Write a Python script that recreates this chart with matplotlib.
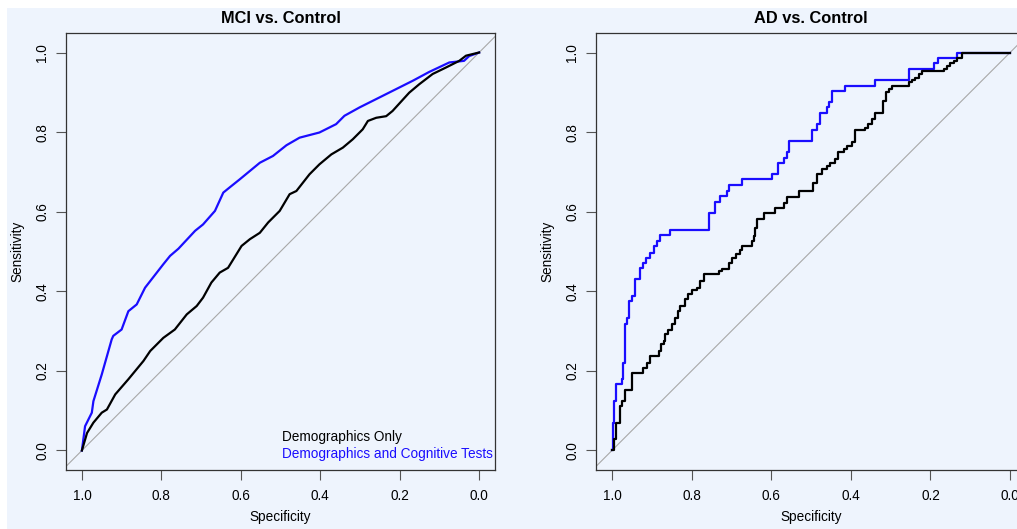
import numpy as np
import matplotlib
matplotlib.use('Agg')
import matplotlib.pyplot as plt
from matplotlib.patches import Rectangle

plt.rcParams['font.family'] = ['Liberation Sans', 'DejaVu Sans']

# MCI vs. Control (specificity, sensitivity)
mci_demo_spec = [1.0, 0.987, 0.971, 0.950, 0.937, 0.916, 0.883, 0.845, 0.828, 0.795, 0.766,
                 0.736, 0.711, 0.695, 0.674, 0.653, 0.632, 0.598, 0.577, 0.552, 0.531, 0.502,
                 0.477, 0.460, 0.427, 0.402, 0.372, 0.343, 0.318, 0.293, 0.280, 0.259, 0.234,
                 0.218, 0.176, 0.151, 0.117, 0.084, 0.050, 0.033, 0.0]
mci_demo_sens = [0.0, 0.044, 0.070, 0.095, 0.103, 0.141, 0.179, 0.225, 0.250, 0.283, 0.304,
                 0.342, 0.363, 0.384, 0.422, 0.447, 0.459, 0.514, 0.531, 0.547, 0.573, 0.602,
                 0.644, 0.652, 0.694, 0.719, 0.744, 0.761, 0.782, 0.807, 0.828, 0.836, 0.840,
                 0.853, 0.899, 0.920, 0.946, 0.962, 0.979, 0.992, 1.0]
mci_cog_spec = [1.0, 0.992, 0.975, 0.971, 0.950, 0.925, 0.921, 0.900, 0.883, 0.862, 0.841,
                0.795, 0.778, 0.757, 0.715, 0.695, 0.665, 0.644, 0.628, 0.603, 0.552, 0.519,
                0.485, 0.452, 0.402, 0.360, 0.339, 0.301, 0.259, 0.209, 0.167, 0.126, 0.075,
                0.038, 0.025, 0.0]
mci_cog_sens = [0.0, 0.061, 0.095, 0.124, 0.191, 0.279, 0.288, 0.304, 0.350, 0.367, 0.409,
                0.468, 0.489, 0.507, 0.552, 0.568, 0.602, 0.648, 0.661, 0.681, 0.723, 0.740,
                0.767, 0.786, 0.799, 0.820, 0.841, 0.862, 0.883, 0.908, 0.929, 0.951, 0.975,
                0.979, 0.991, 1.0]

# AD vs. Control (step curves)
ad_demo_spec = [1.0, 0.996, 0.989, 0.979, 0.975, 0.967, 0.950, 0.921, 0.912, 0.904, 0.883,
                0.877, 0.870, 0.866, 0.858, 0.849, 0.841, 0.833, 0.828, 0.816, 0.808, 0.799,
                0.787, 0.778, 0.770, 0.732, 0.724, 0.707, 0.699, 0.689, 0.678, 0.674, 0.649,
                0.644, 0.640, 0.636, 0.619, 0.590, 0.569, 0.561, 0.531, 0.494, 0.485, 0.473,
                0.460, 0.452, 0.439, 0.431, 0.418, 0.410, 0.397, 0.389, 0.364, 0.356, 0.347,
                0.339, 0.318, 0.312, 0.305, 0.297, 0.255, 0.247, 0.238, 0.230, 0.222, 0.167,
                0.159, 0.151, 0.142, 0.134, 0.121, 0.0]
ad_demo_sens = [0.0, 0.028, 0.070, 0.112, 0.124, 0.153, 0.195, 0.208, 0.220, 0.237, 0.250,
                0.267, 0.275, 0.292, 0.304, 0.319, 0.334, 0.350, 0.363, 0.380, 0.392, 0.403,
                0.409, 0.426, 0.443, 0.451, 0.457, 0.472, 0.484, 0.493, 0.505, 0.514, 0.526,
                0.539, 0.560, 0.581, 0.596, 0.610, 0.623, 0.638, 0.652, 0.673, 0.694, 0.707,
                0.715, 0.722, 0.733, 0.749, 0.757, 0.765, 0.774, 0.806, 0.811, 0.820, 0.832,
                0.847, 0.878, 0.901, 0.909, 0.916, 0.925, 0.931, 0.937, 0.946, 0.954, 0.958,
                0.966, 0.973, 0.979, 0.987, 1.0, 1.0]
ad_cog_spec = [1.0, 0.9975, 0.994, 0.989, 0.975, 0.971, 0.967, 0.962, 0.956, 0.950, 0.943,
               0.929, 0.923, 0.914, 0.905, 0.895, 0.887, 0.879, 0.854, 0.757, 0.741, 0.728,
               0.711, 0.707, 0.674, 0.598, 0.582, 0.569, 0.561, 0.555, 0.498, 0.485, 0.477,
               0.460, 0.454, 0.448, 0.414, 0.339, 0.255, 0.192, 0.180, 0.134, 0.0]
ad_cog_sens = [0.0, 0.070, 0.124, 0.166, 0.180, 0.220, 0.317, 0.334, 0.376, 0.388, 0.430,
               0.459, 0.472, 0.484, 0.497, 0.514, 0.526, 0.541, 0.554, 0.596, 0.625, 0.640,
               0.652, 0.667, 0.681, 0.694, 0.722, 0.736, 0.749, 0.778, 0.806, 0.820, 0.847,
               0.862, 0.876, 0.904, 0.916, 0.931, 0.958, 0.973, 0.987, 1.0, 1.0]

titles = ['MCI vs. Control', 'AD vs. Control']
legend_labels = ['Demographics Only', 'Demographics and Cognitive Tests']
ticks = [1.0, 0.8, 0.6, 0.4, 0.2, 0.0]

W, H = 1017, 529
fig = plt.figure(figsize=(W / 100, H / 100), dpi=100)
fig.patch.set_facecolor('white')
bg = '#eef4fd'
fig.patches.append(Rectangle((7 / W, 0), 1, 1 - 8 / H, transform=fig.transFigure,
                             facecolor=bg, edgecolor='none', zorder=-10))

ax_h = 437 / H
ax_b = (H - 470) / H
ax1 = fig.add_axes([66 / W, ax_b, 429 / W, ax_h])
ax2 = fig.add_axes([596 / W, ax_b, 430 / W, ax_h])

curves = [
    (mci_demo_spec, mci_demo_sens, mci_cog_spec, mci_cog_sens, 'default'),
    (ad_demo_spec, ad_demo_sens, ad_cog_spec, ad_cog_sens, 'steps-post'),
]

for ax, title, (ds, dy, cs, cy, style) in zip([ax1, ax2], titles, curves):
    ax.set_facecolor(bg)
    ax.set_xlim(1.04, -0.04)
    ax.set_ylim(-0.049, 1.049)
    ax.plot([1.2, -0.2], [-0.2, 1.2], color='#a8a8a8', lw=0.8, zorder=1)
    ax.plot(ds, dy, color='black', lw=1.6, drawstyle=style, zorder=3)
    ax.plot(cs, cy, color='#1a0dff', lw=1.6, drawstyle=style, zorder=2)
    ax.set_xticks(ticks)
    ax.set_yticks(ticks)
    ax.set_xticklabels(['%.1f' % t for t in ticks], fontsize=9.8)
    ax.set_yticklabels(['%.1f' % t for t in ticks], fontsize=9.8, rotation=90, va='center')
    ax.tick_params(direction='out', length=7, width=0.8, color='#555555')
    ax.tick_params(axis='x', pad=7)
    ax.tick_params(axis='y', pad=5)
    for s in ax.spines.values():
        s.set_color('#333333')
        s.set_linewidth(0.9)
    ax.set_xlabel('Specificity', fontsize=9.8, labelpad=5)
    ax.set_ylabel('Sensitivity', fontsize=9.8, labelpad=8)
    ax.set_title(title, fontsize=11.8, fontweight='bold', pad=7)

ax1.text(0.497, 0.035, legend_labels[0], color='black', fontsize=9.8, ha='left', va='center')
ax1.text(0.497, -0.008, legend_labels[1], color='#1a0dff', fontsize=9.8, ha='left', va='center')

plt.savefig('out.png', dpi=100, facecolor=fig.get_facecolor())
plt.close()
